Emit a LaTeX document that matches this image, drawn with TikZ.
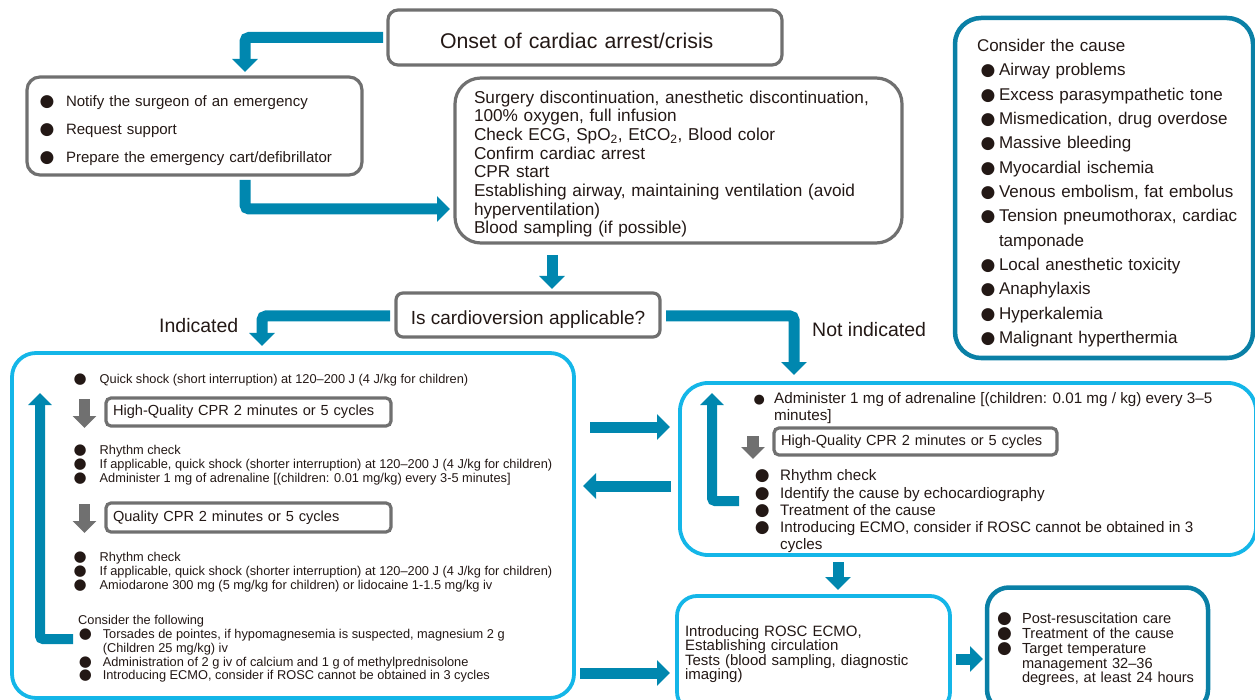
\documentclass[tikz,border=0pt]{standalone}
\usepackage{fontspec}
\setmainfont{Liberation Sans}
\newfontfamily\bulletfont{DejaVu Sans}
\usetikzlibrary{arrows.meta}

\definecolor{flowteal}{RGB}{0,135,175}
\definecolor{boxcyan}{RGB}{20,182,232}
\definecolor{boxteal}{RGB}{10,128,166}
\definecolor{boxgray}{RGB}{112,112,112}
\definecolor{textdark}{RGB}{35,24,21}

\tikzstyle{graybox} = [rectangle, draw=boxgray, line width=3.2pt, outer sep=0pt, rounded corners=10pt, text=textdark, align=left]
\tikzstyle{cyanbox} = [rectangle, draw=boxcyan, line width=3.8pt, outer sep=0pt, rounded corners=24pt, text=textdark, align=left]
\tikzstyle{tealbox} = [rectangle, draw=boxteal, line width=4.5pt, outer sep=0pt, rounded corners=24pt, text=textdark, align=left]
\tikzstyle{cprbox} = [graybox, rounded corners=5pt, inner xsep=7pt, inner ysep=2pt, font=\fontsize{14.6}{17}\selectfont]
\tikzstyle{note} = [inner sep=0pt, anchor=west, align=left, text=textdark]
\tikzstyle{flow} = [draw=flowteal, line width=11pt, rounded corners=4pt, -{Triangle[width=25pt,length=13pt]}]
\tikzstyle{loopflow} = [draw=flowteal, line width=10pt, rounded corners=3pt, -{Triangle[width=23pt,length=12pt]}]
\tikzstyle{grayflow} = [draw=boxgray, line width=11.5pt, -{Triangle[width=23pt,length=12pt]}]

% bullet of a given box width and size
\newcommand{\bul}[2]{\makebox[#1][c]{\raisebox{0pt}[0pt][0pt]{\bulletfont\fontsize{#2}{#2}\selectfont ●}}}

\begin{document}
\begin{tikzpicture}[x=1pt, y=-1pt]
\useasboundingbox (0,0) rectangle (1255,700);

% First steps
\node (onset) [graybox, minimum width=394pt, minimum height=55pt, inner xsep=52pt, text width=290pt, text height=22.5pt, font=\fontsize{21.3}{25}\selectfont] at (585,37.5) {Onset of cardiac arrest/crisis};

\node (notify) [graybox, minimum width=335pt, minimum height=98pt, inner xsep=1pt, text width=333pt, text height=21pt, rounded corners=13pt, font=\fontsize{15}{28}\selectfont] at (194.5,126) {
\bul{38pt}{17}Notify the surgeon of an emergency\\
\bul{38pt}{17}Request support\\
\bul{38pt}{17}Prepare the emergency cart/defibrillator
};

\node (surgery) [graybox, minimum width=447pt, minimum height=165pt, inner xsep=19pt, text width=409pt, text height=19.6pt, rounded corners=26pt, font=\fontsize{17.2}{18.7}\selectfont] at (678.5,160.5) {
Surgery discontinuation, anesthetic discontinuation,\\
100\% oxygen, full infusion\\
Check ECG, SpO\textsubscript{2}, EtCO\textsubscript{2}, Blood color\\
Confirm cardiac arrest\\
CPR start\\
Establishing airway, maintaining ventilation (avoid\\
hyperventilation)\\
Blood sampling (if possible)
};

\node (cause) [tealbox, minimum width=298pt, minimum height=340pt, inner xsep=22pt, text width=254pt, text height=22.4pt, rounded corners=26pt, font=\fontsize{17}{24.33}\selectfont] at (1104,188) {
Consider the cause\\
\bul{22pt}{17}Airway problems\\
\bul{22pt}{17}Excess parasympathetic tone\\
\bul{22pt}{17}Mismedication, drug overdose\\
\bul{22pt}{17}Massive bleeding\\
\bul{22pt}{17}Myocardial ischemia\\
\mbox{\bul{22pt}{17}Venous embolism, fat embolus}\\
\mbox{\bul{22pt}{17}Tension pneumothorax, cardiac}\\
\hspace*{22pt}tamponade\\
\bul{22pt}{17}Local anesthetic toxicity\\
\bul{22pt}{17}Anaphylaxis\\
\bul{22pt}{17}Hyperkalemia\\
\bul{22pt}{17}Malignant hyperthermia
};

% Decision
\node (question) [graybox, minimum width=264pt, minimum height=44pt, rounded corners=7pt, align=center, text height=23pt, font=\fontsize{19}{22}\selectfont] at (528,315) {Is cardioversion applicable?};
\node (indicated) [note, font=\fontsize{19.5}{22}\selectfont] at (159,326) {Indicated};
\node (not_indicated) [note, font=\fontsize{19.5}{22}\selectfont] at (812,330) {Not indicated};

% Shockable rhythm
\node (shock_box) [cyanbox, minimum width=562pt, minimum height=345pt] at (293,525.5) {};
\node (shock_first) [note, font=\fontsize{12.8}{14}\selectfont] at (60.5,380) {\bul{39pt}{15}Quick shock (short interruption) at 120–200 J (4 J/kg for children)};
\node (cpr_one) [cprbox, minimum width=285pt, minimum height=28pt, text width=271pt] at (248.5,412) {High-Quality CPR 2 minutes or 5 cycles};
\node (shock_check_one) [note, font=\fontsize{12.8}{14}\selectfont] at (60.5,465.5) {
\bul{39pt}{15}Rhythm check\\
\bul{39pt}{15}If applicable, quick shock (shorter interruption) at 120–200 J (4 J/kg for children)\\
\bul{39pt}{15}Administer 1 mg of adrenaline [(children: 0.01 mg/kg) every 3-5 minutes]
};
\node (cpr_two) [cprbox, minimum width=285pt, minimum height=29pt, text width=271pt] at (248.5,517.5) {Quality CPR 2 minutes or 5 cycles};
\node (shock_check_two) [note, font=\fontsize{12.8}{14}\selectfont] at (60.5,572.5) {
\bul{39pt}{15}Rhythm check\\
\bul{39pt}{15}If applicable, quick shock (shorter interruption) at 120–200 J (4 J/kg for children)\\
\bul{39pt}{15}Amiodarone 300 mg (5 mg/kg for children) or lidocaine 1-1.5 mg/kg iv
};
\node (shock_consider_title) [note, font=\fontsize{12.8}{14}\selectfont] at (78,621.5) {Consider the following};
\node (shock_consider) [note, font=\fontsize{12.8}{13.7}\selectfont] at (67.6,656) {
\bul{35pt}{15}Torsades de pointes, if hypomagnesemia is suspected, magnesium 2 g\\
\hspace*{35pt}(Children 25 mg/kg) iv\\
\bul{35pt}{15}Administration of 2 g iv of calcium and 1 g of methylprednisolone\\
\bul{35pt}{15}Introducing ECMO, consider if ROSC cannot be obtained in 3 cycles
};

% Non-shockable rhythm
\node (nonshock_box) [cyanbox, minimum width=576pt, minimum height=172pt, rounded corners=28pt] at (968,469) {};
\node (nonshock_adr) [note, font=\fontsize{15.2}{17}\selectfont] at (744,408) {
\bul{30pt}{13}Administer 1 mg of adrenaline [(children: 0.01 mg / kg) every 3–5\\
\hspace*{30pt}minutes]
};
\node (cpr_three) [cprbox, minimum width=283pt, minimum height=27pt, text width=269pt] at (915.5,441.5) {High-Quality CPR 2 minutes or 5 cycles};
\node (nonshock_check) [note, font=\fontsize{15.2}{17.25}\selectfont] at (744,511.5) {
\bul{36pt}{17}Rhythm check\\
\bul{36pt}{17}Identify the cause by echocardiography\\
\bul{36pt}{17}Treatment of the cause\\
\bul{36pt}{17}Introducing ECMO, consider if ROSC cannot be obtained in 3\\
\hspace*{36pt}cycles
};

% After ROSC
\node (rosc) [cyanbox, minimum width=273pt, minimum height=116pt, rounded corners=20pt, inner xsep=8pt, text width=257pt, font=\fontsize{15}{14.4}\selectfont] at (813.5,654) {
Introducing ROSC ECMO,\\
Establishing circulation\\
Tests (blood sampling, diagnostic\\
imaging)
};
\node (post_care) [tealbox, minimum width=221pt, minimum height=124pt, rounded corners=22pt, inner xsep=0pt, text width=221pt, font=\fontsize{14.6}{14.75}\selectfont] at (1097.5,649.5) {
\bul{35pt}{17}Post-resuscitation care\\
\bul{35pt}{17}Treatment of the cause\\
\bul{35pt}{17}Target temperature\\
\hspace*{35pt}management 32–36\\
\hspace*{35pt}degrees, at least 24 hours
};

% Loops inside the boxes
\coordinate (shock_loop_from) at (73,639);
\coordinate (shock_loop_to) at (40,393);
\coordinate (nonshock_loop_from) at (739,501);
\coordinate (nonshock_loop_to) at (712,393);
\draw [loopflow] (shock_loop_from) -| (shock_loop_to);
\draw [loopflow] (nonshock_loop_from) -| (nonshock_loop_to);

\draw [grayflow] ([xshift=-21.5pt,yshift=13pt]cpr_one.west) -- ([xshift=-21.5pt,yshift=-16pt]cpr_one.west);
\draw [grayflow] ([xshift=-21.5pt,yshift=13.5pt]cpr_two.west) -- ([xshift=-21.5pt,yshift=-15.5pt]cpr_two.west);
\draw [grayflow] ([xshift=-21pt,yshift=5.5pt]cpr_three.west) -- ([xshift=-21pt,yshift=-17.5pt]cpr_three.west);

% Connections
\draw [flow] ([xshift=-5pt]onset.west) -| ([xshift=50.5pt,yshift=5pt]notify.north);
\draw [flow] ([xshift=50.5pt,yshift=-5pt]notify.south) |- ([xshift=-5pt,yshift=-48.5pt]surgery.west);
\draw [flow] ([xshift=-126.5pt,yshift=-12pt]surgery.south) -- ([xshift=24pt,yshift=4pt]question.north);
\draw [flow] ([xshift=-6pt,yshift=-1pt]question.west) -| ([xshift=-31pt,yshift=7pt]shock_box.north);
\draw [flow] ([xshift=6pt,yshift=-1pt]question.east) -| ([xshift=-174pt,yshift=8pt]nonshock_box.north);
\draw [flow] ([xshift=16pt,yshift=98.5pt]shock_box.east) -- ([xshift=-10pt,yshift=42pt]nonshock_box.west);
\draw [flow] ([xshift=-9pt,yshift=-17pt]nonshock_box.west) -- ([xshift=9pt,yshift=39.5pt]shock_box.east);
\draw [flow] ([xshift=6pt,yshift=-147.5pt]shock_box.east) -- ([xshift=-7pt,yshift=-19pt]rosc.west);
\draw [flow] ([xshift=-130pt,yshift=-7pt]nonshock_box.south) -- ([xshift=24.5pt,yshift=6pt]rosc.north);
\draw [flow] ([xshift=6pt,yshift=-5pt]rosc.east) -- ([xshift=-4pt,yshift=-9.5pt]post_care.west);

\end{tikzpicture}
\end{document}
